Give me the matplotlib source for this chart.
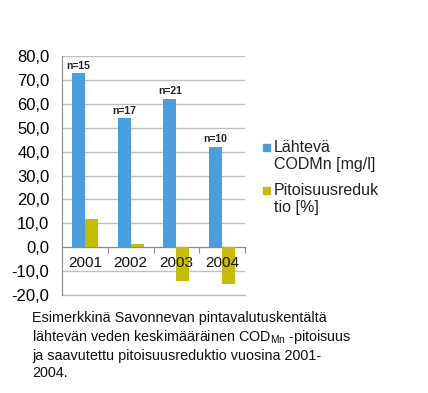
import numpy as np
import matplotlib.pyplot as plt
from matplotlib.patches import Rectangle

plt.rcParams['font.family'] = ['Liberation Sans', 'DejaVu Sans']
plt.rcParams['mathtext.fontset'] = 'custom'
plt.rcParams['mathtext.rm'] = 'Liberation Sans'
plt.rcParams['mathtext.it'] = 'Liberation Sans'

years = ['2001', '2002', '2003', '2004']
cod_mn = [72.7, 54.1, 62.2, 42.0]
reduction = [12.0, 1.3, -14.2, -15.2]
n_labels = ['n=15', 'n=17', 'n=21', 'n=10']
yticks = [-20, -10, 0, 10, 20, 30, 40, 50, 60, 70, 80]

blue = '#4a9ee0'
olive = '#c4bd00'

fig = plt.figure(figsize=(4.28, 3.93), dpi=100)
ax = fig.add_axes([62/428, 1-295/393, (245-62)/428, (295-56)/393])

x = np.arange(len(years))
w = 0.286
ax.bar(x - w/2, cod_mn, w, color=blue, zorder=3)
ax.bar(x + w/2, reduction, w, color=olive, zorder=3)

for xi, v, t in zip(x, cod_mn, n_labels):
    ax.text(xi - w/2, v + 1.0, t, ha='center', va='bottom', fontsize=7.5,
            fontweight='bold', color='#222222')

# year labels sit on top of the bars, like in the original
for xi, yr in zip(x, years):
    ax.text(xi, -6.7, yr, ha='center', va='center', fontsize=11,
            color='#111111', zorder=5)

ax.set_xlim(-0.5, 3.5)
ax.set_ylim(-20, 80)
ax.set_yticks(yticks)
ax.set_yticklabels([f'{v:.1f}'.replace('.', ',') for v in yticks], fontsize=12)
ax.yaxis.grid(True, color='#bfbfbf', linewidth=1.0, zorder=0)
ax.axhline(-20, color='#bfbfbf', linewidth=1.0, clip_on=False, zorder=1)
ax.tick_params(axis='y', length=0, pad=9)

ax.spines['bottom'].set_position(('data', 0))
ax.spines['bottom'].set_color('#8c8c8c')
ax.spines['left'].set_color('#8c8c8c')
ax.spines['top'].set_visible(False)
ax.spines['right'].set_visible(False)

ax.set_xticks([0.5, 1.5, 2.5, 3.5])
ax.set_xticklabels([])
ax.tick_params(axis='x', which='major', direction='out', length=4, color='#8c8c8c')

# legend drawn by hand
leg_items = [(blue, 'Lähtevä\nCODMn [mg/l]', 140), (olive, 'Pitoisuusreduk\ntio [%]', 183)]
for col, lab, top in leg_items:
    fig.patches.append(Rectangle((263/428, 1-(top+11)/393), 7/428, 7/393,
                                 transform=fig.transFigure, color=col))
    fig.text(274/428, 1-top/393, lab, fontsize=11.5, va='top', ha='left',
             linespacing=1.15, color='#222222')

caption = ('Esimerkkinä Savonnevan pintavalutuskentältä\n'
           'lähtevän veden keskimääräinen COD$_{\\mathrm{Mn}}$ -pitoisuus\n'
           'ja saavutettu pitoisuusreduktio vuosina 2001-\n'
           '2004.')
fig.text(32/428, 1-311/393, caption, fontsize=10.4, va='top', ha='left',
         linespacing=1.25, color='#111111')

fig.savefig('out.png', dpi=100)
